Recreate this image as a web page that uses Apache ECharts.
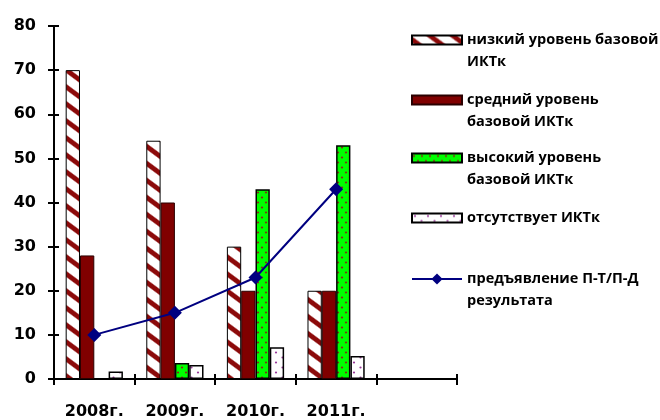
<!DOCTYPE html>
<html><head><meta charset="utf-8">
<script src="https://cdn.jsdelivr.net/npm/echarts@6/dist/echarts.min.js"></script>
<style>html,body{margin:0;padding:0;background:#fff}#c{width:660px;height:420px}</style>
</head><body><div id="c"></div>
<script>
const categories = ['2008г.', '2009г.', '2010г.', '2011г.', ''];
const lowLevel = [70, 54, 30, 20, null];
const midLevel = [28, 40, 20, 20, null];
const highLevel = [null, 3.6, 43, 53, null];
const noneLevel = [1.7, 3.2, 7.2, 5.2, null];
const presentation = [10, 15, 23, 43, null];
const seriesNames = ['низкий уровень базовой\nИКТк', 'средний уровень\nбазовой ИКТк', 'высокий уровень\nбазовой ИКТк', 'отсутствует ИКТк', 'предъявление П-Т/П-Д\nрезультата'];
const yMin = 0, yMax = 80, yStep = 10;

function hatchPattern() {
  const w = 23, h = 17, c = document.createElement('canvas');
  c.width = w; c.height = h;
  const ctx = c.getContext('2d');
  const img = ctx.createImageData(w, h);
  for (let y = 0; y < h; y++) for (let x = 0; x < w; x++) {
    let t = ((y + 0.5 - h * (x + 0.5) / w) % h + h) % h;
    let d = Math.abs(t - 4); d = Math.min(d, h - d);
    let a = Math.max(0, Math.min(1, (3.8 - d) / 1.6));
    const i = (y * w + x) * 4;
    img.data[i] = Math.round(255 + (140 - 255) * a);
    img.data[i + 1] = Math.round(255 + (10 - 255) * a);
    img.data[i + 2] = Math.round(255 + (10 - 255) * a);
    img.data[i + 3] = 255;
  }
  ctx.putImageData(img, 0, 0);
  return { image: c, repeat: 'repeat' };
}
function dotPattern(bg, dot, w, h, pts, r) {
  const c = document.createElement('canvas');
  c.width = w; c.height = h;
  const ctx = c.getContext('2d');
  ctx.fillStyle = bg; ctx.fillRect(0, 0, w, h);
  ctx.fillStyle = dot;
  pts.forEach(p => { ctx.beginPath(); ctx.arc(p[0], p[1], r, 0, Math.PI * 2); ctx.fill(); });
  return { image: c, repeat: 'repeat' };
}
const hatch = hatchPattern();
const greenDots = dotPattern('#00ff00', '#8a2a1a', 8, 10, [[2, 2.5], [6, 7.5]], 1.1);
const purpleDots = dotPattern('#ffffff', '#9a3a9a', 13, 10, [[3, 2.5], [9.5, 7.5]], 1.1);

const chart = echarts.init(document.getElementById('c'), null, { renderer: 'canvas' });
const labelFont = { fontFamily: 'DejaVu Sans', fontWeight: 'bold', fontSize: 16, color: '#000' };
const legendTops = [7, 67, 125, 207, 246];
const legendHeights = [9, 9, 9, 9, 14];
const legendFont = { fontFamily: 'Open Sans', fontWeight: 'bold', fontSize: 14.5, color: '#000', lineHeight: 22 };

const barBase = { type: 'bar', barGap: '0%', barCategoryGap: '29%' };
chart.setOption({
  animation: false,
  backgroundColor: '#fff',
  grid: { left: 54, right: 203, top: 26, bottom: 38 },
  legend: seriesNames.map((n, i) => Object.assign({
    data: [n], left: 411, top: legendTops[i], orient: 'vertical', padding: 0,
    itemWidth: 50, itemHeight: legendHeights[i], selectedMode: false,
    formatter: n.indexOf('\n') >= 0 ? '\n{name}' : '{name}',
    textStyle: legendFont
  }, i < 4 ? { icon: 'rect' } : {})),
  xAxis: [{
    type: 'category', data: categories, boundaryGap: true,
    axisLine: { lineStyle: { color: '#000', width: 2 } },
    axisTick: { show: true, length: 6, lineStyle: { color: '#000', width: 2 } },
    axisLabel: Object.assign({ margin: 25, interval: 0 }, labelFont),
    splitLine: { show: false }
  }, {
    type: 'category', data: categories, boundaryGap: true, position: 'bottom',
    axisLine: { show: false },
    axisTick: { show: true, inside: true, length: 5, lineStyle: { color: '#000', width: 2 } },
    axisLabel: { show: false }, splitLine: { show: false }
  }],
  yAxis: [{
    type: 'value', min: yMin, max: yMax, interval: yStep,
    axisLine: { show: true, lineStyle: { color: '#000', width: 2 } },
    axisTick: { show: true, length: 6, lineStyle: { color: '#000', width: 2 } },
    axisLabel: Object.assign({ margin: 18 }, labelFont),
    splitLine: { show: false }
  }, {
    type: 'value', min: yMin, max: yMax, interval: yStep, position: 'left',
    axisLine: { show: false },
    axisTick: { show: true, inside: true, length: 5, lineStyle: { color: '#000', width: 2 } },
    axisLabel: { show: false }, splitLine: { show: false }
  }],
  series: [
    Object.assign({}, barBase, { name: seriesNames[0], data: lowLevel, itemStyle: { color: hatch, borderColor: '#000', borderWidth: 1 } }),
    Object.assign({}, barBase, { name: seriesNames[1], data: midLevel, itemStyle: { color: '#800000', borderColor: '#2a0000', borderWidth: 1 } }),
    Object.assign({}, barBase, { name: seriesNames[2], data: highLevel, itemStyle: { color: greenDots, borderColor: '#000', borderWidth: 1.5 } }),
    Object.assign({}, barBase, { name: seriesNames[3], data: noneLevel, itemStyle: { color: purpleDots, borderColor: '#000', borderWidth: 1.5 } }),
    { type: 'line', name: seriesNames[4], data: presentation, z: 5,
      symbol: 'diamond', symbolSize: 14, showSymbol: true,
      lineStyle: { color: '#000080', width: 2 }, itemStyle: { color: '#000080' } }
  ]
});
</script></body></html>
